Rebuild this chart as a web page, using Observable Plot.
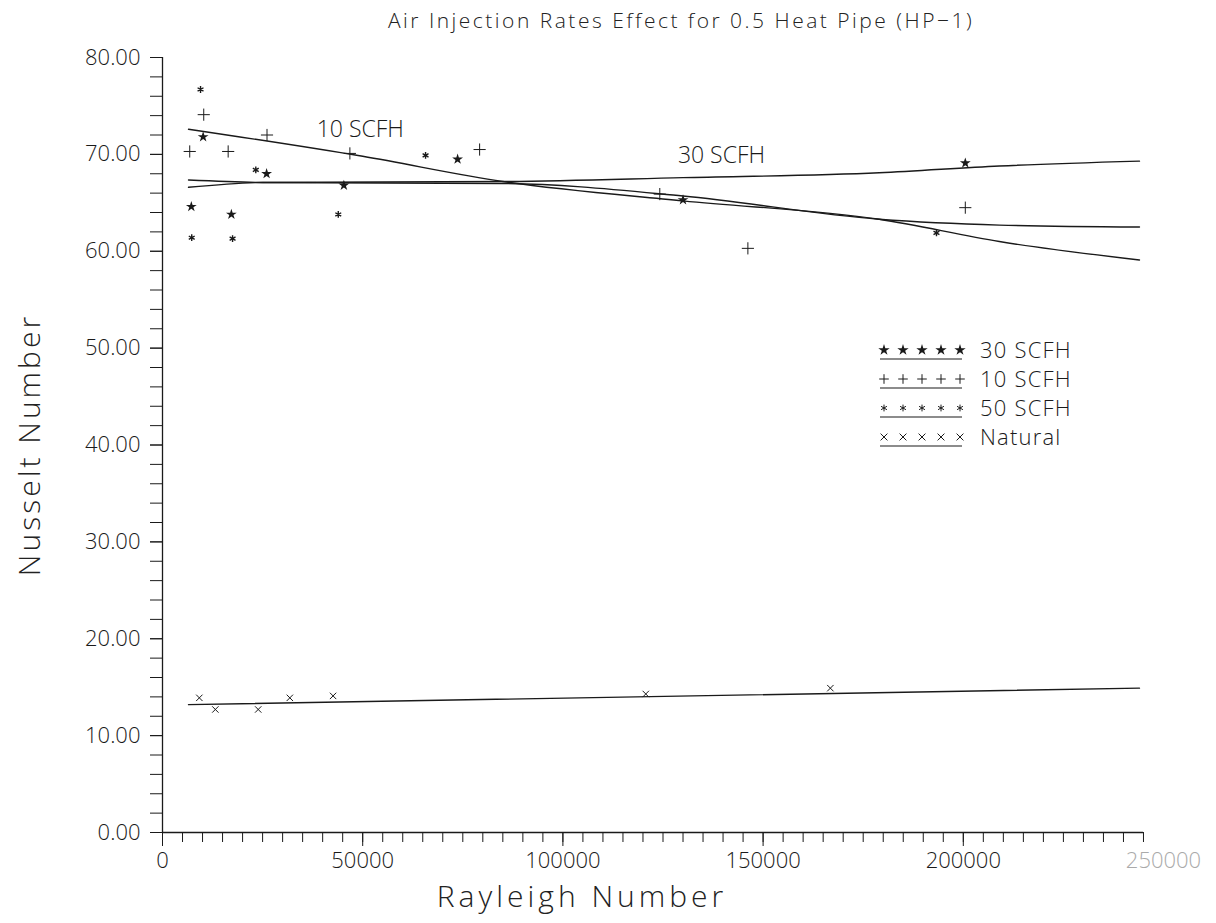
<!DOCTYPE html>
<html>
<head>
<meta charset="utf-8">
<script src="https://cdn.jsdelivr.net/npm/d3@7"></script>
<script src="https://cdn.jsdelivr.net/npm/@observablehq/plot@0.6"></script>
<style>
  html, body { margin: 0; padding: 0; background: #fff; }
  #wrap { position: relative; width: 1216px; height: 923px; font-family: "Open Sans", "DejaVu Sans", sans-serif; font-weight: 300; color: #222; }
  #title { position: absolute; left: 0; width: 1362px; top: 6px; text-align: center; font-size: 21px; letter-spacing: 2.5px; }
  #ylab { position: absolute; left: 28px; top: 445px; transform: translate(-50%, -50%) rotate(-90deg); font-size: 30px; letter-spacing: 3px; white-space: nowrap; }
  #xlab { position: absolute; left: 582px; top: 895px; transform: translate(-50%, -50%); font-size: 30px; letter-spacing: 4px; white-space: nowrap; }
  #chart { position: absolute; left: 0; top: 0; }
  #legend { position: absolute; left: 870px; top: 335px; }
</style>
</head>
<body>
<div id="wrap">
  <div id="chart"></div>
  <div id="title">Air Injection Rates Effect for 0.5 Heat Pipe (HP−1)</div>
  <div id="ylab">Nusselt Number</div>
  <div id="xlab">Rayleigh Number</div>
  <div id="legend"></div>
</div>
<script>
// ---- data ----
const seriesNames = ["30 SCFH", "10 SCFH", "50 SCFH", "Natural"];

const scfh30Ra = [7200, 10150, 17200, 26000, 45300, 73700, 130000, 200500];
const scfh30Nu = [64.6, 71.8, 63.8, 68.0, 66.8, 69.5, 65.3, 69.1];

const scfh10Ra = [6800, 10300, 16400, 26100, 46800, 79200, 124200, 146200, 200500];
const scfh10Nu = [70.3, 74.1, 70.3, 72.0, 70.1, 70.5, 65.9, 60.3, 64.5];

const scfh50Ra = [7300, 9500, 17500, 23300, 43900, 65700, 193300];
const scfh50Nu = [61.4, 76.7, 61.3, 68.4, 63.8, 69.9, 61.9];

const naturalRa = [9200, 13200, 23900, 31800, 42600, 120700, 166800];
const naturalNu = [13.9, 12.7, 12.7, 13.9, 14.1, 14.3, 14.9];

// fitted curves
const fit30Ra = [6500, 25000, 85000, 130000, 179000, 209000, 244000];
const fit30Nu = [66.6, 67.1, 67.2, 67.6, 68.1, 68.8, 69.3];
const fit10Ra = [6500, 50000, 85000, 130000, 179000, 209000, 244000];
const fit10Nu = [72.6, 69.8, 67.2, 65.2, 63.3, 61.0, 59.1];
const fit50Ra = [6500, 25000, 85000, 130000, 179000, 209000, 244000];
const fit50Nu = [67.35, 67.1, 67.0, 65.7, 63.3, 62.7, 62.5];
const fitNatRa = [6500, 244000];
const fitNatNu = [13.2, 14.9];

const annotText = ["10 SCFH", "30 SCFH"];
const annotRa = [49400, 139600];
const annotNu = [72.6, 69.9];

const yTicks = [0, 10, 20, 30, 40, 50, 60, 70, 80];
const xTicks = [0, 50000, 100000, 150000, 200000];
const xLastLabel = [250000];

// ---- build ----
const zip = (xs, ys) => xs.map((x, i) => ({x, y: ys[i]}));
const p30 = zip(scfh30Ra, scfh30Nu), p10 = zip(scfh10Ra, scfh10Nu), p50 = zip(scfh50Ra, scfh50Nu), pN = zip(naturalRa, naturalNu);
const f30 = zip(fit30Ra, fit30Nu), f10 = zip(fit10Ra, fit10Nu), f50 = zip(fit50Ra, fit50Nu), fN = zip(fitNatRa, fitNatNu);
const annots = annotText.map((t, i) => ({t, x: annotRa[i], y: annotNu[i]}));

const ink = "#1a1a1a";
const font = "'Open Sans', 'DejaVu Sans', sans-serif";

const plot = Plot.plot({
  width: 1216, height: 923,
  marginLeft: 162, marginRight: 53, marginTop: 57, marginBottom: 91,
  x: {domain: [0, 250000], label: null},
  y: {domain: [0, 80], label: null},
  style: {background: "white", color: ink, fontFamily: font},
  marks: [
    Plot.ruleY([0], {x1: 0, x2: 245000, stroke: ink, strokeWidth: 1.3}),
    Plot.ruleX([0], {y1: 0, y2: 80, stroke: ink, strokeWidth: 1.3}),
    Plot.axisX(d3.range(0, 245001, 5000), {tickSize: 10, tickFormat: () => "", stroke: ink, strokeWidth: 1, label: null}),
    Plot.axisX(xTicks, {tickSize: 14, tickPadding: 6, tickFormat: d => String(d), fontSize: 22, fontWeight: 300, letterSpacing: 3, stroke: ink, label: null}),
    Plot.axisX(xLastLabel, {tickSize: 0, tickPadding: 20, tickFormat: d => String(d), fontSize: 22, fontWeight: 300, letterSpacing: 3, fill: "#aaa", label: null}),
    Plot.axisY(d3.range(0, 80.01, 2), {tickSize: 12, tickFormat: () => "", stroke: ink, strokeWidth: 1, label: null}),
    Plot.axisY(yTicks, {tickSize: 12, tickPadding: 10, tickFormat: d => d.toFixed(2), fontSize: 22, fontWeight: 300, letterSpacing: 1.2, stroke: ink, label: null}),
    Plot.line(f30, {x: "x", y: "y", curve: "monotone-x", stroke: ink, strokeWidth: 1.4}),
    Plot.line(f10, {x: "x", y: "y", curve: "monotone-x", stroke: ink, strokeWidth: 1.4}),
    Plot.line(f50, {x: "x", y: "y", curve: "monotone-x", stroke: ink, strokeWidth: 1.4}),
    Plot.line(fN, {x: "x", y: "y", stroke: ink, strokeWidth: 1.4}),
    Plot.dot(p30, {x: "x", y: "y", symbol: "star", r: 3.4, fill: ink}),
    Plot.dot(p10, {x: "x", y: "y", symbol: "plus", r: 4, stroke: ink, strokeWidth: 1}),
    Plot.dot(p50, {x: "x", y: "y", symbol: "asterisk", r: 3.2, stroke: ink, strokeWidth: 1.4}),
    Plot.dot(pN, {x: "x", y: "y", symbol: "times", r: 3, stroke: ink, strokeWidth: 1}),
    Plot.text(annots, {x: "x", y: "y", text: "t", fontSize: 23, fontWeight: 300, letterSpacing: 3, fill: ink})
  ]
});
document.getElementById("chart").appendChild(plot);

// ---- legend ----
const legSymbols = [d3.symbolStar, d3.symbolPlus, d3.symbolAsterisk, d3.symbolTimes];
const leg = d3.select("#legend").append("svg").attr("width", 240).attr("height", 115)
  .style("font-family", font);
seriesNames.forEach((name, i) => {
  const g = leg.append("g").attr("transform", `translate(0, ${15 + i * 29})`);
  for (let k = 0; k < 5; k++) {
    const isFill = i === 0;
    g.append("path")
      .attr("transform", `translate(${14 + k * 19}, 0)`)
      .attr("d", d3.symbol(legSymbols[i], i === 0 ? 40 : 32)())
      .attr("fill", isFill ? ink : "none")
      .attr("stroke", isFill ? "none" : ink)
      .attr("stroke-width", 1);
  }
  g.append("line").attr("x1", 10).attr("x2", 92).attr("y1", 9).attr("y2", 9)
    .attr("stroke", ink).attr("stroke-width", 1.2);
  g.append("text").attr("x", 110).attr("y", 8).attr("font-size", 22).attr("font-weight", 300)
    .attr("letter-spacing", 1.2).attr("fill", ink).text(name);
});
</script>
</body>
</html>
